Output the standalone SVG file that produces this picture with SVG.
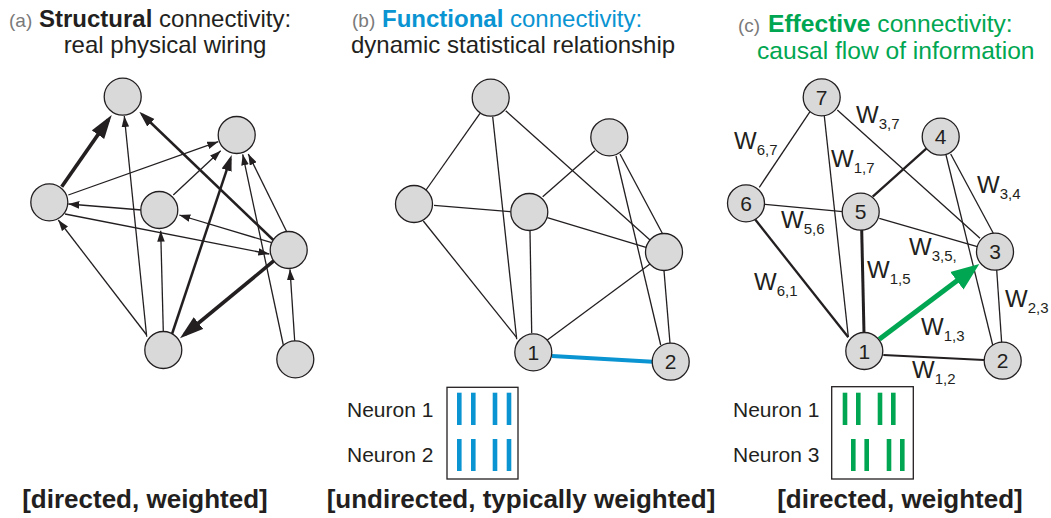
<svg xmlns="http://www.w3.org/2000/svg" width="1051" height="518" viewBox="0 0 1051 518">
  <style>
    text { font-family: "Liberation Sans", Arial, Helvetica, sans-serif; fill: #231f20; }
    .title { font-size: 24px; }
    .title-c { font-size: 24.6px; }
    .tag { font-size: 19px; fill: #7a7a7a; }
    .bold { font-weight: bold; }
    .blue { fill: #0a94d2; }
    .green { fill: #00a651; }
    .caption { font-size: 26px; font-weight: bold; text-anchor: middle; }
    .neuron { font-size: 21px; }
    .num { font-size: 21px; text-anchor: middle; dominant-baseline: central; }
    .w { font-size: 24px; }
    .sub { font-size: 15px; }
    .node { fill: #d9d9d9; stroke: #231f20; stroke-width: 1.3; }
    .edge { stroke: #231f20; stroke-width: 1.3; fill: none; }
    .w2 { stroke-width: 2; }
    .w22 { stroke-width: 2.3; }
    .w3 { stroke-width: 3; }
    .mid { stroke-width: 2.5; }
    .thick { stroke-width: 3.6; }
    .raster { fill: #fff; stroke: #231f20; stroke-width: 1.3; }
    .spike-b { fill: #0a94d2; }
    .spike-g { fill: #00a651; }
  </style>
  <defs>
    <marker id="ah-thin" viewBox="0 -4 11 8" refX="11" refY="0" markerWidth="11" markerHeight="8" markerUnits="userSpaceOnUse" orient="auto">
      <path d="M0,-3.8 L11,0 L0,3.8 z" fill="#231f20"/>
    </marker>
    <marker id="ah-mid" viewBox="0 -6 16 12" refX="12" refY="0" markerWidth="16" markerHeight="12" markerUnits="userSpaceOnUse" orient="auto">
      <path d="M0,-5.2 L16,0 L0,5.2 z" fill="#231f20"/>
    </marker>
    <marker id="ah-thick" viewBox="0 -8 24 16" refX="18" refY="0" markerWidth="24" markerHeight="16" markerUnits="userSpaceOnUse" orient="auto">
      <path d="M0,-7.5 L24,0 L0,7.5 z" fill="#231f20"/>
    </marker>
    <marker id="ah-green" viewBox="0 -12 28 24" refX="20" refY="0" markerWidth="28" markerHeight="24" markerUnits="userSpaceOnUse" orient="auto">
      <path d="M0,-11 L28,0 L0,11 z" fill="#00a651"/>
    </marker>
  </defs>

  <!-- titles -->
  <g id="titles">
    <text class="title" x="9" y="27"><tspan class="tag">(a)</tspan><tspan class="bold" x="39">Structural</tspan> connectivity:</text>
    <text class="title" x="165" y="53" text-anchor="middle">real physical wiring</text>
    <text class="title" x="352" y="27"><tspan class="tag">(b)</tspan><tspan class="bold blue" x="382">Functional</tspan><tspan class="blue"> connectivity:</tspan></text>
    <text class="title" x="351" y="53">dynamic statistical relationship</text>
    <text class="title-c" x="738" y="32"><tspan class="tag">(c)</tspan><tspan class="bold green" x="768">Effective</tspan><tspan class="green"> connectivity:</tspan></text>
    <text class="title-c green" x="757" y="59">causal flow of information</text>
  </g>

  <!-- (a) structural network: directed, weighted -->
  <g id="connectors-a">
    <line class="edge thick" x1="61.7" y1="186.7" x2="108.3" y2="119.9" marker-end="url(#ah-thick)"/>
    <line class="edge" x1="146.7" y1="336.7" x2="124.3" y2="116" marker-end="url(#ah-thin)"/>
    <line class="edge mid" x1="273.3" y1="240" x2="142.2" y2="114.5" marker-end="url(#ah-mid)"/>
    <line class="edge" x1="68.3" y1="195" x2="218.3" y2="141.7" marker-end="url(#ah-thin)"/>
    <line class="edge" x1="173.3" y1="195" x2="220.7" y2="150.7" marker-end="url(#ah-thin)"/>
    <line class="edge mid" x1="171.7" y1="335" x2="230.4" y2="158.8" marker-end="url(#ah-mid)"/>
    <line class="edge" x1="283.3" y1="345" x2="242.7" y2="154.3" marker-end="url(#ah-thin)"/>
    <line class="edge" x1="286.7" y1="231.7" x2="248.3" y2="154" marker-end="url(#ah-thin)"/>
    <line class="edge" x1="141.7" y1="210" x2="68.3" y2="204" marker-end="url(#ah-thin)"/>
    <line class="edge" x1="271.7" y1="242.7" x2="179.3" y2="215" marker-end="url(#ah-thin)"/>
    <line class="edge" x1="65" y1="214" x2="269.3" y2="254" marker-end="url(#ah-thin)"/>
    <line class="edge" x1="146.7" y1="335" x2="58.3" y2="220" marker-end="url(#ah-thin)"/>
    <line class="edge" x1="163.3" y1="331.7" x2="160.7" y2="230.7" marker-end="url(#ah-thin)"/>
    <line class="edge thick" x1="274" y1="260.7" x2="184.6" y2="334.5" marker-end="url(#ah-thick)"/>
    <line class="edge" x1="294.7" y1="341" x2="290" y2="269.3" marker-end="url(#ah-thin)"/>
  </g>
  <g id="a-top"><circle class="node" cx="122.7" cy="96.7" r="18.5"/></g>
  <g id="a-upper-right"><circle class="node" cx="236.7" cy="135" r="18.5"/></g>
  <g id="a-left"><circle class="node" cx="49.3" cy="202.3" r="18.5"/></g>
  <g id="a-center"><circle class="node" cx="159.3" cy="210" r="18.5"/></g>
  <g id="a-right"><circle class="node" cx="288.7" cy="250" r="18.5"/></g>
  <g id="a-bottom"><circle class="node" cx="163.3" cy="350" r="18.5"/></g>
  <g id="a-bottom-right"><circle class="node" cx="295.3" cy="359.3" r="18.5"/></g>

  <!-- (b) functional network: undirected -->
  <g id="connectors-b">
    <line class="edge" x1="480" y1="113.3" x2="426" y2="190"/>
    <line class="edge" x1="492.7" y1="116.7" x2="516.7" y2="339.3"/>
    <line class="edge" x1="505.7" y1="110.7" x2="650" y2="240"/>
    <line class="edge" x1="595" y1="150.7" x2="542.7" y2="196.7"/>
    <line class="edge" x1="616" y1="156" x2="660.7" y2="345"/>
    <line class="edge" x1="620" y1="154" x2="662.7" y2="234"/>
    <line class="edge" x1="434" y1="205.3" x2="510.7" y2="211.7"/>
    <line class="edge" x1="423.3" y1="221" x2="516.7" y2="337.7"/>
    <line class="edge" x1="530" y1="230.7" x2="531.7" y2="333.3"/>
    <line class="edge" x1="547.3" y1="217.7" x2="646" y2="247.3"/>
    <line class="edge" x1="650" y1="264" x2="547.3" y2="340"/>
    <line class="edge" x1="664" y1="270.7" x2="670" y2="343.3"/>
    <line x1="552" y1="356" x2="652.5" y2="361.7" stroke="#0a94d2" stroke-width="4"/>
  </g>
  <g id="b-top"><circle class="node" cx="490.7" cy="97.7" r="18.5"/></g>
  <g id="b-upper-right"><circle class="node" cx="609.3" cy="137.3" r="18.5"/></g>
  <g id="b-left"><circle class="node" cx="414" cy="204" r="18.5"/></g>
  <g id="b-center"><circle class="node" cx="529.3" cy="212" r="18.5"/></g>
  <g id="b-right"><circle class="node" cx="664" cy="252" r="18.5"/></g>
  <g id="b-n1"><circle class="node" cx="533.3" cy="352.3" r="18.5"/><text class="num" x="533.3" y="352.3">1</text></g>
  <g id="b-n2"><circle class="node" cx="670.7" cy="361.7" r="18.5"/><text class="num" x="670.7" y="361.7">2</text></g>

  <!-- (b) spike raster -->
  <g id="b-raster">
    <text class="neuron" x="347" y="417">Neuron 1</text>
    <text class="neuron" x="347" y="462">Neuron 2</text>
    <rect class="raster" x="447" y="387.3" width="71" height="91.7"/>
    <rect class="spike-b" x="457" y="392.7" width="4.6" height="32.3"/>
    <rect class="spike-b" x="471" y="392.7" width="4.6" height="32.3"/>
    <rect class="spike-b" x="492.7" y="392.7" width="4.6" height="32.3"/>
    <rect class="spike-b" x="506.7" y="392.7" width="4.6" height="32.3"/>
    <rect class="spike-b" x="457" y="439" width="4.6" height="32"/>
    <rect class="spike-b" x="471" y="439" width="4.6" height="32"/>
    <rect class="spike-b" x="492.7" y="439" width="4.6" height="32"/>
    <rect class="spike-b" x="506.7" y="439" width="4.6" height="32"/>
  </g>

  <!-- (c) effective network: directed, weighted -->
  <g id="connectors-c">
    <line class="edge" x1="810" y1="111.7" x2="759.3" y2="187.3"/>
    <line class="edge" x1="824.3" y1="116" x2="848.3" y2="336.7"/>
    <line class="edge" x1="837.3" y1="110" x2="980" y2="238.3"/>
    <line class="edge w22" x1="927.7" y1="147.3" x2="872.7" y2="196.7"/>
    <line class="edge" x1="950.7" y1="154" x2="993.3" y2="233.3"/>
    <line class="edge" x1="946" y1="155" x2="992.7" y2="345"/>
    <line class="edge" x1="765" y1="204.3" x2="842.7" y2="211.7"/>
    <line class="edge w22" x1="755" y1="219.3" x2="848.3" y2="337.3"/>
    <line class="edge w3" x1="861.7" y1="230" x2="864" y2="332.7"/>
    <line class="edge" x1="879.3" y1="218.3" x2="977.3" y2="246.7"/>
    <line class="edge w2" x1="883.3" y1="355" x2="984" y2="360"/>
    <line class="edge" x1="996.7" y1="270" x2="1001.7" y2="343.3"/>
    <line x1="879.3" y1="339.3" x2="972.9" y2="268.8" stroke="#00a651" stroke-width="5" marker-end="url(#ah-green)"/>
  </g>
  <g id="c-n7"><circle class="node" cx="821.7" cy="97.3" r="18.5"/><text class="num" x="821.7" y="97.3">7</text></g>
  <g id="c-n4"><circle class="node" cx="940.7" cy="136.7" r="18.5"/><text class="num" x="940.7" y="136.7">4</text></g>
  <g id="c-n6"><circle class="node" cx="746" cy="203.3" r="18.5"/><text class="num" x="746" y="203.3">6</text></g>
  <g id="c-n5"><circle class="node" cx="860.7" cy="211.7" r="18.5"/><text class="num" x="860.7" y="211.7">5</text></g>
  <g id="c-n3"><circle class="node" cx="995" cy="251.7" r="18.5"/><text class="num" x="995" y="251.7">3</text></g>
  <g id="c-n1"><circle class="node" cx="864.3" cy="351" r="18.5"/><text class="num" x="864.3" y="351">1</text></g>
  <g id="c-n2"><circle class="node" cx="1002.7" cy="360.7" r="18.5"/><text class="num" x="1002.7" y="360.7">2</text></g>

  <!-- (c) edge weights -->
  <g id="c-weights">
    <text class="w" x="734" y="149">W<tspan class="sub" dy="6">6,7</tspan></text>
    <text class="w" x="856" y="123">W<tspan class="sub" dy="6">3,7</tspan></text>
    <text class="w" x="831" y="167">W<tspan class="sub" dy="6">1,7</tspan></text>
    <text class="w" x="977" y="193">W<tspan class="sub" dy="6">3,4</tspan></text>
    <text class="w" x="781" y="228">W<tspan class="sub" dy="6">5,6</tspan></text>
    <text class="w" x="909" y="255">W<tspan class="sub" dy="6">3,5,</tspan></text>
    <text class="w" x="867" y="278">W<tspan class="sub" dy="6">1,5</tspan></text>
    <text class="w" x="754" y="290">W<tspan class="sub" dy="6">6,1</tspan></text>
    <text class="w" x="1005" y="307">W<tspan class="sub" dy="6">2,3</tspan></text>
    <text class="w" x="921" y="335">W<tspan class="sub" dy="6">1,3</tspan></text>
    <text class="w" x="912" y="378">W<tspan class="sub" dy="6">1,2</tspan></text>
  </g>

  <!-- (c) spike raster -->
  <g id="c-raster">
    <text class="neuron" x="733" y="417">Neuron 1</text>
    <text class="neuron" x="733" y="462">Neuron 3</text>
    <rect class="raster" x="831.7" y="386.7" width="81.6" height="92.3"/>
    <rect class="spike-g" x="842.7" y="392.7" width="4.6" height="32.3"/>
    <rect class="spike-g" x="856" y="392.7" width="4.6" height="32.3"/>
    <rect class="spike-g" x="877.7" y="392.7" width="4.6" height="32.3"/>
    <rect class="spike-g" x="891" y="392.7" width="4.6" height="32.3"/>
    <rect class="spike-g" x="851" y="439" width="4.6" height="32"/>
    <rect class="spike-g" x="864.4" y="439" width="4.6" height="32"/>
    <rect class="spike-g" x="886.7" y="439" width="4.6" height="32"/>
    <rect class="spike-g" x="900" y="439" width="4.6" height="32"/>
  </g>

  <!-- classification captions -->
  <g id="captions">
    <text class="caption" x="145" y="508">[directed, weighted]</text>
    <text class="caption" x="521" y="508">[undirected, typically weighted]</text>
    <text class="caption" x="900" y="508">[directed, weighted]</text>
  </g>
</svg>
